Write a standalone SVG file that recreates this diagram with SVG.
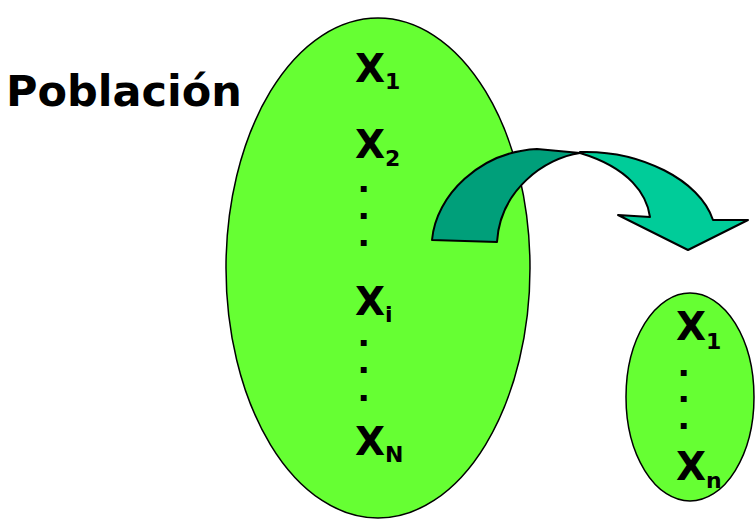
<svg xmlns="http://www.w3.org/2000/svg" width="756" height="519" viewBox="0 0 756 519">
<style>
.ell{fill:#66FF33;stroke:#000;stroke-width:1.5}
.lbl{font-family:"DejaVu Sans",Verdana,sans-serif;font-weight:bold;font-size:39px;fill:#000}
.sub{font-size:22px}
.dot{font-family:"DejaVu Sans",Verdana,sans-serif;font-weight:bold;font-size:22px;fill:#000;stroke:#000;stroke-width:2;stroke-linejoin:miter}
.arr{stroke:#000;stroke-width:2;stroke-linejoin:round}
</style>
<rect width="756" height="519" fill="#fff"/>
<text x="6" y="106" class="lbl" style="font-size:43px">Población</text>
<g id="poblacion">
<ellipse class="ell" cx="378" cy="268" rx="152" ry="250"/>
<text class="lbl" x="355" y="82">X<tspan class="sub" dy="7">1</tspan></text>
<text class="lbl" x="355" y="158">X<tspan class="sub" dy="8">2</tspan></text>
<text class="dot"><tspan x="359.5" y="191">.</tspan><tspan x="359.5" y="218">.</tspan><tspan x="359.5" y="245">.</tspan></text>
<text class="lbl" x="355" y="315">X<tspan class="sub" dy="7">i</tspan></text>
<text class="dot"><tspan x="359.5" y="345">.</tspan><tspan x="359.5" y="372">.</tspan><tspan x="359.5" y="400">.</tspan></text>
<text class="lbl" x="355" y="455">X<tspan class="sub" dy="7">N</tspan></text>
</g>
<g id="connectors">
<path class="arr" fill="#00CC99" d="M580,152 C640,150 700,180 713,220 L748,220 L688,250 L618,215 L650,217 C647,195 630,168 580,153 Z"/>
<path class="arr" fill="#009F7A" d="M432,240 C436,195 480,152 537,149 L580,153 C545,158 500,190 497,242 Z"/>
</g>
<g id="muestra">
<ellipse class="ell" cx="690" cy="397" rx="64" ry="104"/>
<text class="lbl" x="676" y="340">X<tspan class="sub" dy="9">1</tspan></text>
<text class="dot"><tspan x="679.5" y="375">.</tspan><tspan x="679.5" y="401">.</tspan><tspan x="679.5" y="428">.</tspan></text>
<text class="lbl" x="676" y="480">X<tspan class="sub" dy="8">n</tspan></text>
</g>
</svg>
